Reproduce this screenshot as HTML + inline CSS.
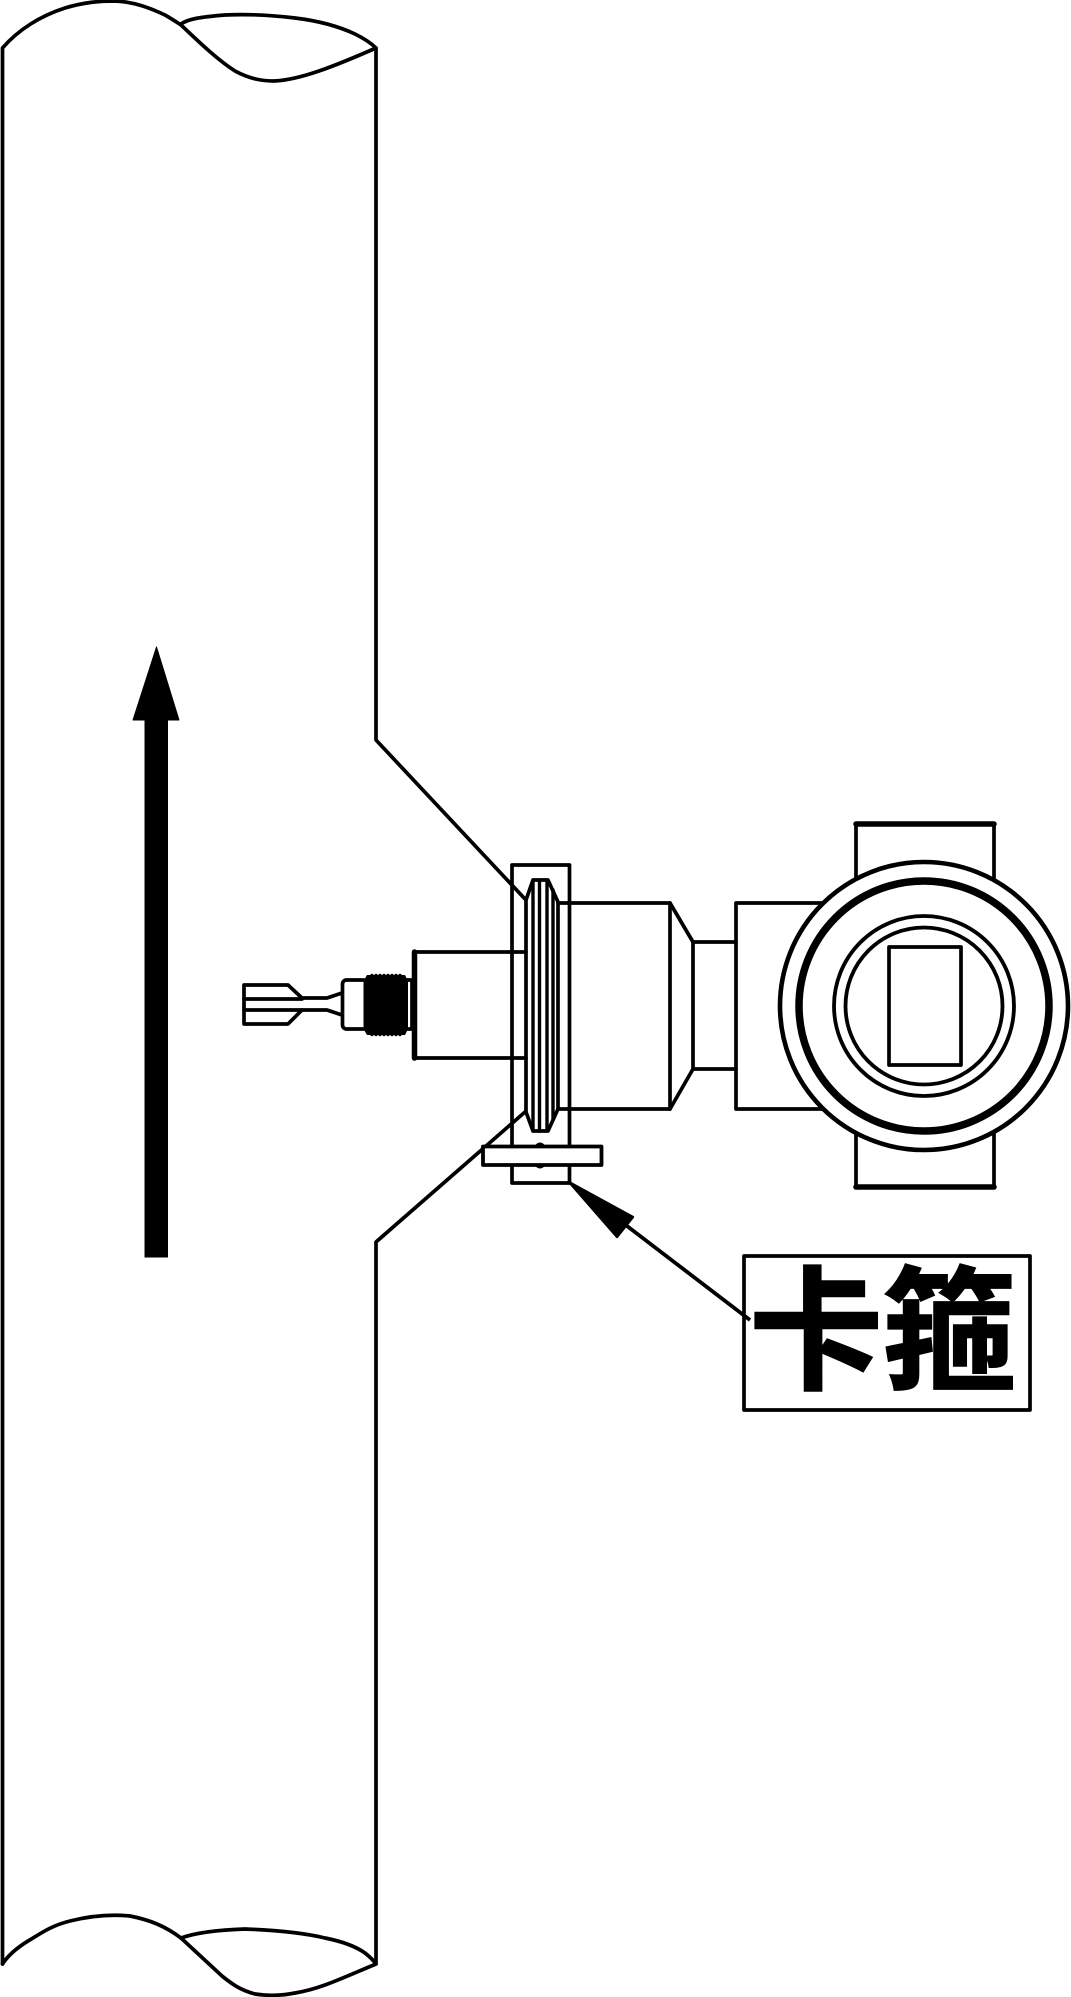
<!DOCTYPE html>
<html>
<head>
<meta charset="utf-8">
<style>
html,body{margin:0;padding:0;background:#fff;}
svg{display:block;}
</style>
</head>
<body>
<svg width="1071" height="1997" viewBox="0 0 1071 1997" xmlns="http://www.w3.org/2000/svg">
<rect width="1071" height="1997" fill="#fff"/>
<g fill="none" stroke="#000" stroke-width="3.7" stroke-linejoin="round" stroke-linecap="round">
  <!-- pipe -->
  <path d="M2.5 1964V48C18 30 40 16 65 8C85 2 100 1 115 1C135 2 150 8 165 15C172 19 178 23 181 25C195 38 215 58 235 71C250 79 262 81 274 81C300 80 335 66 376 48V740L525 899"/>
  <path d="M181 24C188 19 200 17 225 15C245 14 270 15 295 18C320 21 340 27 355 34C365 39 372 44 376 48"/>
  <path d="M525 1112L376 1242V1964C340 1979 320 1989 295 1993C280 1996 268 1996 255 1994C240 1990 232 1984 222 1976C208 1963 194 1950 181 1938C165 1926 150 1920 130 1916C110 1914 90 1916 70 1921C50 1926 40 1934 28 1941C15 1949 7 1957 2.5 1964"/>
  <path d="M181 1938C195 1933 215 1930 245 1929C270 1930 300 1932 325 1938C345 1942 358 1948 365 1953C370 1957 374 1961 376 1964"/>

  <!-- top/bottom boxes behind circles -->
  <path d="M856 880V824H994V880"/>
  <path d="M856 1132V1187H994V1132"/>
  <path d="M856 824H994M856 1187H994" stroke-width="5.5"/>

  <!-- body parts -->
  <path d="M558 903H670V1109H558"/>
  <path d="M670 903L693 942V1069L670 1109"/>
  <path d="M693 942H736M693 1069H736"/>
  <path d="M824 903H736V1109H824"/>

  <!-- outer rectangle -->
  <path d="M512 1146V865H569.5V1146M512 1165V1183H569.5V1165"/>

  <!-- flange -->
  <path d="M526 900L533 880H548L558 902V1109L548 1131H533L526 1112Z"/>
  <path d="M533 880V1131M539.5 880V1131M547 880V1131M553 890V1120" stroke-width="3.4"/>

  <!-- large stub -->
  <path d="M526 952H415V1058H526"/>
  <path d="M414.5 952V1058" stroke-width="5.5"/>

  <!-- thread neck -->
  <path d="M405 980H412M405 1029H412M412 980V1029"/>
  <rect x="342.5" y="980" width="25" height="49" rx="4" fill="#fff"/>

  <!-- fork tip -->
  <path d="M342 993L327 998H302L288 985H244V1024H288L302 1010H327L342 1015"/>
  <path d="M244 999H302M244 1010H302"/>

  <!-- circles -->
  <circle cx="924" cy="1006" r="144" fill="#fff" stroke-width="4.6"/>
  <circle cx="924" cy="1006" r="125" stroke-width="7.5"/>
  <circle cx="924" cy="1006" r="90" stroke-width="3.8"/>
  <circle cx="924" cy="1006" r="78.5" stroke-width="3.8"/>
  <rect x="889" y="947" width="72" height="118"/>
</g>

<!-- threads (black) -->
<path d="M363.5 981L367 975H370L372 973.5L374 975L376 973.5L378 975L380 973.5L382 975L384 973.5L386 975L388 973.5L390 975L392 973.5L394 975L396 973.5L398 975L400 973.5L402 975L405 975L408 981V1029L405 1035H402L400 1036.5L398 1035L396 1036.5L394 1035L392 1036.5L390 1035L388 1036.5L386 1035L384 1036.5L382 1035L380 1036.5L378 1035L376 1036.5L374 1035L372 1036.5L370 1035L367 1035L363.5 1029Z" fill="#000"/>

<!-- clamp bump + bar -->
<ellipse cx="540" cy="1155.5" rx="8" ry="13" fill="#000"/>
<rect x="483" y="1146.5" width="118.5" height="18.5" fill="#fff" stroke="#000" stroke-width="3.8" stroke-linejoin="round"/>

<!-- flow arrow -->
<path d="M145 720H133L156.5 647L179 720H167.5V1257H145Z" fill="#000" stroke="#000" stroke-width="1" stroke-linejoin="round"/>

<!-- leader arrow -->
<path d="M627 1226L750 1320" stroke="#000" stroke-width="3.8" fill="none"/>
<path d="M569 1182L633 1217L617 1237Z" fill="#000" stroke="#000" stroke-width="2.4" stroke-linejoin="round"/>

<!-- label -->
<rect x="744" y="1256" width="286" height="154" fill="none" stroke="#000" stroke-width="3.7" stroke-linejoin="round"/>
<text x="749 882" y="1379" font-family="'Liberation Sans','Noto Sans CJK SC',sans-serif" font-size="134" font-weight="700" fill="#000" stroke="#000" stroke-width="1.5">卡箍</text>
</svg>
</body>
</html>
